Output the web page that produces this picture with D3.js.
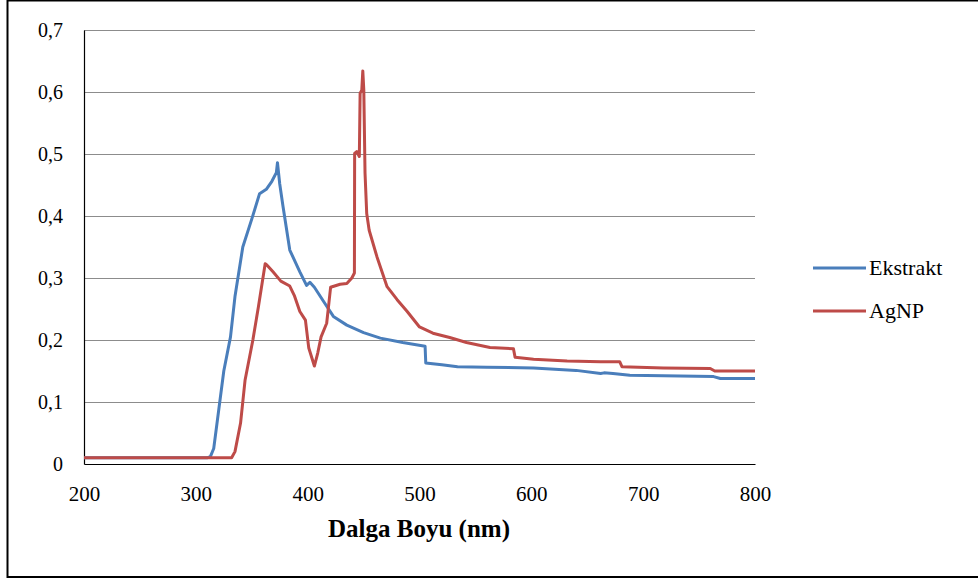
<!DOCTYPE html>
<html>
<head>
<meta charset="utf-8">
<script src="https://cdn.jsdelivr.net/npm/d3@7"></script>
<style>
  body { margin: 0; background: #fff; }
  svg { display: block; font-family: "Liberation Serif", "Times New Roman", serif; }
</style>
</head>
<body>
<svg id="chart" width="978" height="581"></svg>
<script>
// Ekstrakt series (wavelength nm, absorbance)
var ekstraktWl = [200, 310, 313, 316, 325, 331, 335, 342, 350, 357, 363, 368, 372, 373, 375, 378, 384, 393,
  399, 402, 406, 415, 423, 435, 450, 465, 485, 505, 505.6, 520, 534, 560, 602, 640, 662, 665, 673, 688, 733, 763, 769, 800];
var ekstraktVal = [0.01, 0.01, 0.012, 0.025, 0.15, 0.205, 0.27, 0.35, 0.395, 0.436, 0.443, 0.456, 0.47, 0.486, 0.452, 0.415, 0.345, 0.31,
  0.288, 0.293, 0.285, 0.26, 0.238, 0.224, 0.212, 0.203, 0.196, 0.19, 0.163, 0.16, 0.157, 0.156, 0.155, 0.151, 0.146, 0.147, 0.146, 0.143, 0.142, 0.141, 0.138, 0.138];

// AgNP series
var agnpWl = [200, 332, 335, 340, 344, 351, 356, 362, 363.5, 369, 376, 384, 388, 393, 398, 401, 406, 409, 412, 417, 419, 420.5,
  429, 435, 439.5, 441.8, 442, 443.9, 446.2, 446.9, 448.4, 449.3, 450.2, 451.3, 452.8, 455, 462, 471, 480, 489, 500, 512, 527,
  542, 563, 584, 585.5, 602, 632, 662, 679, 681, 718, 760, 764, 800];
var agnpVal = [0.01, 0.01, 0.02, 0.066, 0.135, 0.2, 0.254, 0.323, 0.321, 0.31, 0.295, 0.287, 0.272, 0.246, 0.232, 0.187, 0.158, 0.179, 0.205, 0.227, 0.26, 0.285,
  0.29, 0.291, 0.3, 0.308, 0.501, 0.504, 0.496, 0.598, 0.603, 0.634, 0.603, 0.469, 0.404, 0.377, 0.334, 0.286, 0.265, 0.246, 0.221, 0.211, 0.204,
  0.196, 0.188, 0.186, 0.172, 0.169, 0.166, 0.165, 0.165, 0.157, 0.155, 0.154, 0.15, 0.15];

var xTicks = [200, 300, 400, 500, 600, 700, 800];
var yTicks = [0, 0.1, 0.2, 0.3, 0.4, 0.5, 0.6, 0.7];
var seriesNames = ["Ekstrakt", "AgNP"];
var seriesColors = ["#4A7EBB", "#BE4B48"];

var svg = d3.select("#chart");

// outer frame
svg.append("rect")
  .attr("x", 7.5).attr("y", 0.5)
  .attr("width", 990).attr("height", 576.5)
  .attr("fill", "none").attr("stroke", "#000").attr("stroke-width", 2);

var plotLeft = 84, plotRight = 755, plotTop = 30, plotBottom = 464;
var x = d3.scaleLinear().domain([200, 800]).range([plotLeft, plotRight]);
var y = d3.scaleLinear().domain([0, 0.7]).range([plotBottom, plotTop]);

// gridlines
svg.append("g").selectAll("line")
  .data(yTicks.filter(function(d) { return d > 0; }))
  .enter().append("line")
  .attr("x1", plotLeft).attr("x2", plotRight)
  .attr("y1", function(d) { return Math.round(y(d)) + 0.5; })
  .attr("y2", function(d) { return Math.round(y(d)) + 0.5; })
  .attr("stroke", "#8c8c8c").attr("stroke-width", 1);

// y axis
var yAxis = svg.append("g")
  .attr("transform", "translate(" + plotLeft + ",0)")
  .call(d3.axisLeft(y).tickValues(yTicks).tickSize(0).tickPadding(21)
    .tickFormat(function(d) { return d === 0 ? "0" : d3.format(".1f")(d).replace(".", ","); }));
yAxis.select(".domain").attr("stroke", "#000").attr("stroke-width", 1.2);
yAxis.selectAll("text").style("font-size", "20px").style("font-family", "Liberation Serif").attr("fill", "#000");

// x axis
var xAxis = svg.append("g")
  .attr("transform", "translate(0," + plotBottom + ")")
  .call(d3.axisBottom(x).tickValues(xTicks).tickSize(0).tickPadding(22));
xAxis.select(".domain").attr("stroke", "#000").attr("stroke-width", 1.2);
xAxis.selectAll("text").style("font-size", "21px").style("font-family", "Liberation Serif").attr("fill", "#000");

// axis title
svg.append("text")
  .attr("x", 419).attr("y", 537)
  .attr("text-anchor", "middle")
  .style("font-size", "25px").style("font-weight", "bold")
  .text("Dalga Boyu (nm)");

var line = d3.line()
  .x(function(d) { return x(d[0]); })
  .y(function(d) { return y(d[1]); });

var series = [
  d3.zip(ekstraktWl, ekstraktVal),
  d3.zip(agnpWl, agnpVal)
];

series.forEach(function(pts, i) {
  svg.append("path")
    .datum(pts)
    .attr("d", line)
    .attr("fill", "none")
    .attr("stroke", seriesColors[i])
    .attr("stroke-width", 3)
    .attr("stroke-linejoin", "round");
});

// legend
var legend = svg.append("g");
seriesNames.forEach(function(name, i) {
  var ly = 268 + i * 43;
  legend.append("line")
    .attr("x1", 813).attr("x2", 866)
    .attr("y1", ly).attr("y2", ly)
    .attr("stroke", seriesColors[i]).attr("stroke-width", 3);
  legend.append("text")
    .attr("x", 869).attr("y", ly + 7)
    .style("font-size", "22px")
    .text(name);
});
</script>
</body>
</html>
